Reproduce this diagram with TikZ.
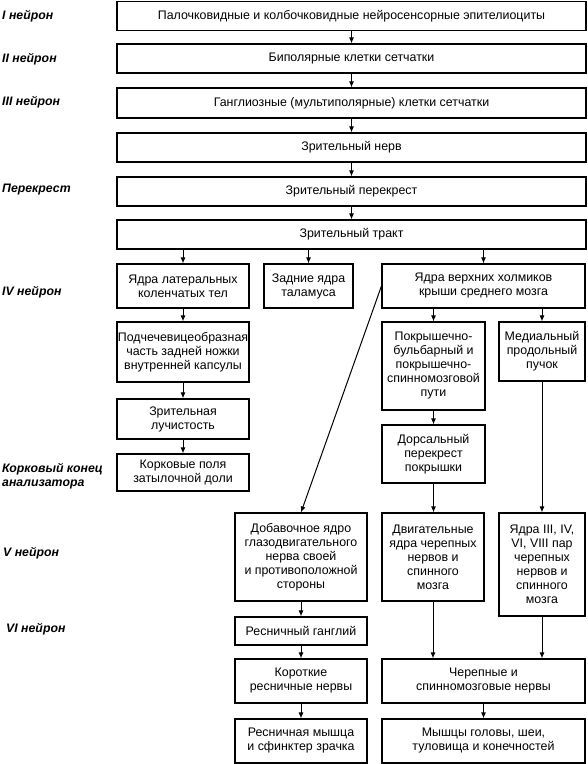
\documentclass[tikz,border=0pt]{standalone}
\usepackage{fontspec}
\setmainfont{Liberation Sans}
\usetikzlibrary{arrows.meta}
\begin{document}
\begin{tikzpicture}[x=1pt,y=-1pt,
  box/.style={draw, line width=1.1pt, align=center, inner sep=0pt,
    font=\fontsize{12.4}{14}\selectfont},
  lbl/.style={anchor=west, align=left, inner sep=0pt,
    font=\fontsize{12.3}{14}\selectfont\bfseries\itshape},
  arr/.style={line width=1pt, -{Latex[length=6pt,width=5pt]}},
  ln/.style={line width=1pt}]
\useasboundingbox (0,0) rectangle (588,764);
% top chain
\node[box, minimum width=469pt, minimum height=29pt] (n1) at (351.5,16) {Палочковидные и колбочковидные нейросенсорные эпителиоциты};
\node[box, minimum width=469pt, minimum height=29pt] (n2) at (351.5,58.5) {Биполярные клетки сетчатки};
\node[box, minimum width=469pt, minimum height=30pt] (n3) at (351.5,103) {Ганглиозные (мультиполярные) клетки сетчатки};
\node[box, minimum width=469pt, minimum height=29pt] (n4) at (351.5,147.5) {Зрительный нерв};
\node[box, minimum width=469pt, minimum height=29pt] (n5) at (351.5,191.5) {Зрительный перекрест};
\node[box, minimum width=469pt, minimum height=29pt] (n6) at (351.5,234.5) {Зрительный тракт};
% level IV
\node[box, minimum width=132pt, minimum height=44pt] (lgn) at (183,286) {Ядра латеральных\\коленчатых тел};
\node[box, minimum width=89pt, minimum height=44pt] (thal) at (308.5,286) {Задние ядра\\таламуса};
\node[box, minimum width=203pt, minimum height=44pt] (coll) at (483.5,286) {Ядра верхних холмиков\\крыши среднего мозга};
% left column
\node[box, minimum width=132pt, minimum height=60pt] (podch) at (183,352) {Подчечевицеобразная\\часть задней ножки\\внутренней капсулы};
\node[box, minimum width=132pt, minimum height=40pt] (luch) at (183,419) {Зрительная\\лучистость};
\node[box, minimum width=132pt, minimum height=37pt] (cort) at (183,472.5) {Корковые поля\\затылочной доли};
% right columns
\node[box, minimum width=103pt, minimum height=88pt] (pokr) at (433.5,366) {Покрышечно-\\бульбарный и\\покрышечно-\\спинномозговой\\пути};
\node[box, minimum width=86pt, minimum height=59pt] (med) at (542,351.5) {Медиальный\\продольный\\пучок};
\node[box, minimum width=103pt, minimum height=58pt] (dors) at (433.5,454) {Дорсальный\\перекрест\\покрышки};
% V level
\node[box, minimum width=132pt, minimum height=88pt] (dob) at (301,557) {Добавочное ядро\\глазодвигательного\\нерва своей\\и противоположной\\стороны};
\node[box, minimum width=102pt, minimum height=88pt] (dv) at (433,557) {Двигательные\\ядра черепных\\нервов и\\спинного\\мозга};
\node[box, minimum width=86pt, minimum height=103pt] (ya) at (542,564.5) {Ядра III, IV,\\VI, VIII пар\\черепных\\нервов и\\спинного\\мозга};
% lower
\node[box, minimum width=132pt, minimum height=28pt] (gang) at (301,631) {Ресничный ганглий};
\node[box, minimum width=132pt, minimum height=44pt] (short) at (301,681) {Короткие\\ресничные нервы};
\node[box, minimum width=132pt, minimum height=44pt] (musc) at (301,741) {Ресничная мышца\\и сфинктер зрачка};
\node[box, minimum width=203pt, minimum height=44pt] (cher) at (483.5,681) {Черепные и\\спинномозговые нервы};
\node[box, minimum width=203pt, minimum height=44pt] (mysh) at (483.5,741) {Мышцы головы, шеи,\\туловища и конечностей};
% labels
\node[lbl] (l1) at (2,16) {I нейрон};
\node[lbl] (l2) at (2,59) {II нейрон};
\node[lbl] (l3) at (2,102) {III нейрон};
\node[lbl] (l4) at (2,190) {Перекрест};
\node[lbl] (l5) at (2,292) {IV нейрон};
\node[lbl] (l6) at (2,476) {Корковый конец\\анализатора};
\node[lbl] (l7) at (3,553) {V нейрон};
\node[lbl] (l8) at (6,629) {VI нейрон};
% connectors
\draw[arr] (n1) -- (n2);
\draw[arr] (n2) -- (n3);
\draw[arr] (n3) -- (n4);
\draw[arr] (n4) -- (n5);
\draw[arr] (n5) -- (n6);
\draw[arr] (lgn.north |- n6.south) -- (lgn.north);
\draw[arr] (thal.north |- n6.south) -- (thal.north);
\draw[arr] (coll.north |- n6.south) -- (coll.north);
\draw[arr] (lgn) -- (podch);
\draw[arr] (podch) -- (luch);
\draw[arr] (luch) -- (cort);
\draw[arr] (pokr.north |- coll.south) -- (pokr.north);
\draw[arr] (med.north |- coll.south) -- (med.north);
\draw[arr] (pokr) -- (dors);
\draw[arr] (dors.south) -- (dors.south |- dv.north);
\draw[arr] (med.south) -- (med.south |- ya.north);
\draw[arr] (coll.west) -- (dob.north);
\draw[arr] (dob) -- (gang);
\draw[arr] (gang) -- (short);
\draw[arr] (short) -- (musc);
\draw[arr] (dv.south) -- (dv.south |- cher.north);
\draw[arr] (ya.south) -- (ya.south |- cher.north);
\draw[arr] (cher) -- (mysh);
\end{tikzpicture}
\end{document}
